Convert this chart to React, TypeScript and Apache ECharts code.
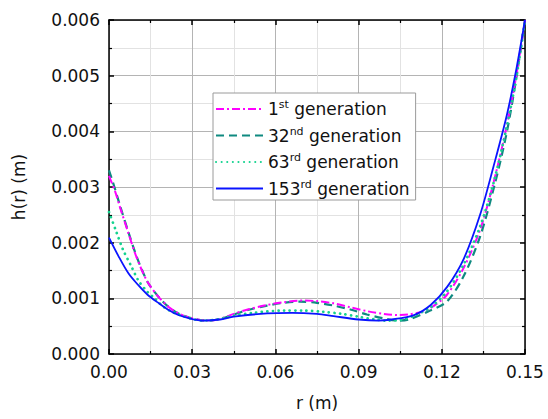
import React, { useEffect, useRef } from "react";
import * as echarts from "echarts";

// 1st generation
const r1 = [0, 0.0022, 0.004, 0.007, 0.0094, 0.0118, 0.0142, 0.0178, 0.0214, 0.025, 0.0286, 0.033, 0.036, 0.04, 0.045, 0.05, 0.057, 0.063, 0.069, 0.075, 0.081, 0.087, 0.093, 0.099, 0.104, 0.108, 0.113, 0.1158, 0.1218, 0.1278, 0.1338, 0.1386, 0.143, 0.1465, 0.15];
const h1 = [0.0032, 0.00292, 0.00263, 0.00217, 0.00181, 0.00151, 0.00127, 0.00103, 0.00085, 0.00073, 0.00066, 0.00061, 0.0006, 0.00063, 0.00072, 0.0008, 0.00088, 0.00093, 0.00096, 0.00095, 0.00091, 0.00084, 0.00077, 0.00072, 0.0007, 0.00071, 0.00076, 0.00082, 0.00106, 0.00154, 0.00223, 0.00307, 0.004, 0.0049, 0.006];
// 32nd generation
const r2 = [0, 0.0022, 0.004, 0.007, 0.0094, 0.0118, 0.0142, 0.0178, 0.0214, 0.025, 0.0286, 0.033, 0.036, 0.04, 0.045, 0.05, 0.057, 0.063, 0.069, 0.075, 0.081, 0.087, 0.093, 0.099, 0.104, 0.108, 0.1158, 0.1218, 0.1278, 0.1338, 0.1392, 0.1435, 0.147, 0.15];
const h2 = [0.0033, 0.00296, 0.00266, 0.00219, 0.00183, 0.00152, 0.00127, 0.00103, 0.00085, 0.00073, 0.00066, 0.00061, 0.0006, 0.00063, 0.00071, 0.00079, 0.00087, 0.00092, 0.00094, 0.00092, 0.00087, 0.0008, 0.00071, 0.00064, 0.0006, 0.00062, 0.00078, 0.00094, 0.00139, 0.00211, 0.00307, 0.004, 0.005, 0.006];
// 63rd generation
const r3 = [0, 0.0026, 0.005, 0.008, 0.0106, 0.0136, 0.0164, 0.0196, 0.0226, 0.0256, 0.03, 0.034, 0.04, 0.045, 0.052, 0.063, 0.07, 0.077, 0.084, 0.09, 0.096, 0.1, 0.105, 0.11, 0.116, 0.1218, 0.1278, 0.1338, 0.1388, 0.1435, 0.147, 0.15];
const h3 = [0.00255, 0.0022, 0.00188, 0.00158, 0.00132, 0.00113, 0.001, 0.00085, 0.00076, 0.0007, 0.00063, 0.0006, 0.00063, 0.00069, 0.00074, 0.00078, 0.00078, 0.00076, 0.00072, 0.00067, 0.00062, 0.0006, 0.00061, 0.00069, 0.00084, 0.00112, 0.0016, 0.00229, 0.0031, 0.0041, 0.005, 0.006];
// 153rd generation
const r4 = [0, 0.0035, 0.007, 0.0105, 0.014, 0.018, 0.0215, 0.025, 0.029, 0.034, 0.04, 0.045, 0.057, 0.066, 0.075, 0.081, 0.09, 0.097, 0.102, 0.11, 0.116, 0.122, 0.128, 0.1338, 0.1386, 0.1434, 0.147, 0.15];
const h4 = [0.00209, 0.00175, 0.00145, 0.00124, 0.00106, 0.00091, 0.00079, 0.0007, 0.00064, 0.0006, 0.00062, 0.00067, 0.00073, 0.00074, 0.00072, 0.00068, 0.00062, 0.0006, 0.00062, 0.0007, 0.00088, 0.00121, 0.00172, 0.0025, 0.00336, 0.00428, 0.00515, 0.006];

const seriesNames = ["1st generation", "32nd generation", "63rd generation", "153rd generation"];
const legendParts: Record<string, [string, string, string]> = {
  "1st generation": ["1", "st", " generation"],
  "32nd generation": ["32", "nd", " generation"],
  "63rd generation": ["63", "rd", " generation"],
  "153rd generation": ["153", "rd", " generation"],
};

const xMin = 0, xMax = 0.15, xStep = 0.03;
const yMin = 0, yMax = 0.006, yStep = 0.001;

const FONT = "DejaVu Sans";

function zip(r: number[], h: number[]) {
  return r.map((v, i) => [v, h[i]]);
}

export default function App() {
  const ref = useRef<HTMLDivElement>(null);
  useEffect(() => {
    if (!ref.current) return;
    const chart = echarts.init(ref.current, undefined, { renderer: "svg" });
    const baseX = {
      type: "value" as const,
      min: xMin,
      max: xMax,
      interval: xStep,
      axisLine: { show: true, onZero: false, lineStyle: { color: "#000", width: 1.5 } },
      axisTick: { show: true, inside: true, length: 5, lineStyle: { color: "#000", width: 1.5 } },
      minorTick: { show: true, splitNumber: 2, length: 3, lineStyle: { color: "#000", width: 1.2 } },
    };
    const baseY = {
      type: "value" as const,
      min: yMin,
      max: yMax,
      interval: yStep,
      axisLine: { show: true, onZero: false, lineStyle: { color: "#000", width: 1.5 } },
      axisTick: { show: true, inside: true, length: 5, lineStyle: { color: "#000", width: 1.5 } },
      minorTick: { show: true, splitNumber: 2, length: 3, lineStyle: { color: "#000", width: 1.2 } },
    };
    const mk = (name: string, r: number[], h: number[], color: string, type: any, width: number, z: number, cap: string) => ({
      name,
      type: "line" as const,
      data: zip(r, h),
      showSymbol: false,
      symbol: "none",
      smooth: 0.3,
      z,
      color,
      itemStyle: { color, opacity: 0 },
      lineStyle: { color, type, width, cap },
    });
    chart.setOption({
      animation: false,
      backgroundColor: "#ffffff",
      grid: { left: 109, right: 23, top: 20, bottom: 65 },
      legend: {
        data: seriesNames,
        orient: "vertical",
        left: 213,
        top: 93,
        itemWidth: 47,
        itemHeight: 14,
        itemGap: 8,
        padding: [6, 6, 3, 2],
        borderColor: "#9a9a9a",
        borderWidth: 1,
        backgroundColor: "#ffffff",
        itemStyle: { opacity: 0 },
        formatter: (name: string) => {
          const p = legendParts[name];
          return `{n|${p[0]}}{s|${p[1]}}{n|${p[2]}}`;
        },
        textStyle: {
          fontFamily: FONT,
          fontSize: 17,
          color: "#111",
          rich: {
            n: { fontFamily: FONT, fontSize: 17, color: "#111", lineHeight: 20 },
            s: { fontFamily: FONT, fontSize: 11, color: "#111", lineHeight: 20, verticalAlign: "top" },
          },
        },
      },
      xAxis: [
        {
          ...baseX,
          position: "bottom",
          name: "r (m)",
          nameLocation: "middle",
          nameGap: 40,
          nameTextStyle: { fontFamily: FONT, fontSize: 17, color: "#111" },
          axisLabel: {
            margin: 9,
            fontFamily: FONT,
            fontSize: 17,
            color: "#111",
            formatter: (v: number) => v.toFixed(2),
          },
          splitLine: { show: true, lineStyle: { color: "#b4b4b4", width: 1 } },
          minorSplitLine: { show: true, lineStyle: { color: "#e2e2e2", width: 1 } },
        },
        {
          ...baseX,
          position: "top",
          axisLabel: { show: false },
          splitLine: { show: false },
        },
      ],
      yAxis: [
        {
          ...baseY,
          position: "left",
          name: "h(r) (m)",
          nameLocation: "middle",
          nameGap: 82,
          nameTextStyle: { fontFamily: FONT, fontSize: 17, color: "#111" },
          axisLabel: {
            margin: 9,
            fontFamily: FONT,
            fontSize: 17,
            color: "#111",
            formatter: (v: number) => v.toFixed(3),
          },
          splitLine: { show: true, lineStyle: { color: "#b4b4b4", width: 1 } },
          minorSplitLine: { show: true, lineStyle: { color: "#e2e2e2", width: 1 } },
        },
        {
          ...baseY,
          position: "right",
          axisLabel: { show: false },
          splitLine: { show: false },
        },
      ],
      series: [
        mk(seriesNames[0], r1, h1, "#ff00ff", [8, 3, 2, 3], 2, 3, "butt"),
        mk(seriesNames[1], r2, h2, "#0f8a80", [8, 5], 2.2, 2, "butt"),
        mk(seriesNames[2], r3, h3, "#14d38f", [0.1, 5.5], 2.7, 4, "round"),
        mk(seriesNames[3], r4, h4, "#0a14ff", "solid", 1.8, 5, "butt"),
      ],
    });
    return () => chart.dispose();
  }, []);
  return (
    <div
      ref={ref}
      style={{ position: "absolute", left: 0, top: 0, width: 548, height: 419 }}
    />
  );
}
